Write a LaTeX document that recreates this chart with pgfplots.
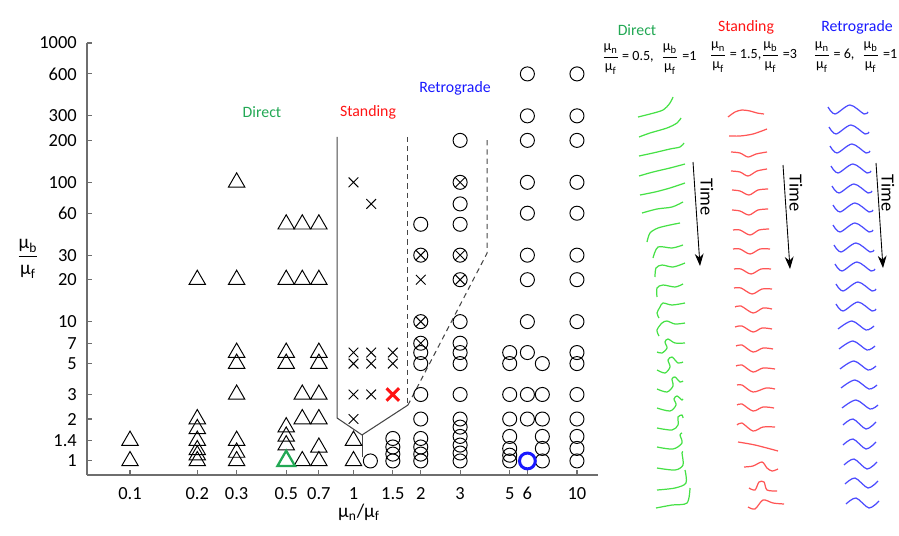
\documentclass[border=0pt]{standalone}
\usepackage{fontspec}
\setmainfont{Carlito}
\usepackage{amsmath}
\usepackage{pgfplots}
\pgfplotsset{compat=1.18}
\usetikzlibrary{arrows.meta}

\definecolor{axgray}{RGB}{110,110,110}
\definecolor{bgray}{RGB}{70,70,70}
\definecolor{dgreen}{RGB}{34,168,84}
\definecolor{lred}{RGB}{255,20,20}
\definecolor{lblue}{RGB}{25,25,255}
\definecolor{wgreen}{RGB}{70,225,70}
\definecolor{wred}{RGB}{255,85,85}
\definecolor{wblue}{RGB}{75,75,255}

\newcommand{\mufrac}[2]{$\dfrac{\text{μ}_{\text{#1}}}{\text{μ}_{\text{#2}}}$}

\begin{document}
\begin{tikzpicture}
\path[use as bounding box] (0,0) rectangle (17.98cm,10.7cm);

% overlay axis in pixel units: snapshots, labels, arrows
\begin{axis}[at={(0,0)}, anchor=south west, scale only axis,
  width=17.98cm, height=10.7cm, xmin=0, xmax=899, ymin=0, ymax=535,
  y dir=reverse, hide axis, clip=false,
  gw/.style={wgreen, line width=0.7pt, smooth},
  rw/.style={wred, line width=0.7pt, smooth},
  bw/.style={wblue, line width=0.7pt, smooth}]

% direct
\addplot[gw] coordinates {(638,117)(650,114)(663,110)(670,103)(673,97)};
\addplot[gw] coordinates {(639,137)(650,133)(667,128)(677,123)(681,118)};
\addplot[gw] coordinates {(639,156)(653,153)(670,149)(680,147)(684,143)};
\addplot[gw] coordinates {(639,176)(653,172)(670,168)(685,164)};
\addplot[gw] coordinates {(640,195)(655,192)(670,188)(685,183)};
\addplot[gw] coordinates {(642,213)(657,209)(672,207)(683,202)};
\addplot[gw] coordinates {(647,242)(650,233)(658,228)(670,225)(680,223)};
\addplot[gw] coordinates {(653,258)(658,247)(672,248)(683,245)};
\addplot[gw] coordinates {(655,277)(656,268)(662,265)(673,267)(685,263)};
\addplot[gw] coordinates {(657,297)(657,288)(663,285)(675,287)(683,284)};
\addplot[gw] coordinates {(659,318)(657,313)(660,307)(663,303)(672,305)(685,303)};
\addplot[gw] coordinates {(659,336)(657,330)(662,323)(667,321)(675,324)(685,323)};
\addplot[gw] coordinates {(657,352)(662,353)(667,348)(665,342)(668,339)(675,343)(685,343)};
\addplot[gw] coordinates {(657,370)(665,373)(670,367)(668,360)(672,357)(678,363)(683,362)};
\addplot[gw] coordinates {(657,389)(667,392)(673,386)(672,379)(675,377)(680,382)(683,381)};
\addplot[gw] coordinates {(657,408)(670,411)(676,405)(674,399)(677,396)(682,400)(683,399)};
\addplot[gw] coordinates {(657,428)(672,430)(678,425)(678,417)(682,415)(683,418)};
\addplot[gw] coordinates {(657,447)(673,449)(682,443)(680,435)(682,433)};
\addplot[gw] coordinates {(657,468)(675,470)(683,465)(682,453)(683,452)};
\addplot[gw] coordinates {(657,490)(675,488)(686,483)(685,470)};
\addplot[gw] coordinates {(656,508)(672,505)(687,503)(690,488)};

% standing
\addplot[rw] coordinates {(728,117)(735,112)(742,110)(750,111)(757,113)(764,114)};
\addplot[rw] coordinates {(729,136)(740,136)(753,134)(767,129)};
\addplot[rw] coordinates {(731,152)(740,153)(748,157)(756,154)(767,152)};
\addplot[rw] coordinates {(731,171)(740,172)(748,176)(757,171)(767,169)};
\addplot[rw] coordinates {(732,190)(740,191)(749,195)(758,190)(768,189)};
\addplot[rw] coordinates {(732,210)(740,211)(749,215)(758,210)(768,209)};
\addplot[rw] coordinates {(733,230)(740,230)(750,235)(759,230)(769,229)};
\addplot[rw] coordinates {(733,249)(740,249)(750,254)(760,249)(770,249)};
\addplot[rw] coordinates {(734,269)(741,269)(751,274)(761,269)(771,269)};
\addplot[rw] coordinates {(734,288)(741,288)(752,294)(762,289)(772,289)};
\addplot[rw] coordinates {(735,307)(741,306)(753,313)(763,308)(772,309)};
\addplot[rw] coordinates {(735,327)(742,326)(753,332)(762,328)(772,329)};
\addplot[rw] coordinates {(736,346)(742,345)(753,352)(763,348)(773,349)};
\addplot[rw] coordinates {(736,366)(742,365)(753,372)(763,368)(775,369)};
\addplot[rw] coordinates {(737,385)(742,385)(753,392)(766,388)(775,389)};
\addplot[rw] coordinates {(737,405)(742,404)(753,411)(763,407)(774,408)};
\addplot[rw] coordinates {(737,425)(742,423)(753,431)(763,427)(775,427)};
\addplot[rw] coordinates {(738,442)(755,445)(778,451)};
\addplot[rw] coordinates {(744,467)(753,466)(762,462)(767,468)(772,471)(778,469)};
\addplot[rw] coordinates {(749,488)(755,490)(759,482)(764,482)(767,490)(777,491)};
\addplot[rw] coordinates {(748,507)(755,509)(763,500)(773,503)(784,504)};

% retrograde
\addplot[bw] coordinates {(828,107)(835,114)(850,105)(864,114)(868,112)};
\addplot[bw] coordinates {(829,127)(836,134)(851,125)(865,134)(869,132)};
\addplot[bw] coordinates {(830,146)(837,153)(852,144)(866,153)(870,151)};
\addplot[bw] coordinates {(831,166)(838,173)(853,164)(867,173)(871,171)};
\addplot[bw] coordinates {(832,186)(839,193)(854,184)(868,193)(872,191)};
\addplot[bw] coordinates {(833,205)(840,212)(855,203)(869,212)(873,210)};
\addplot[bw] coordinates {(833,225)(840,232)(855,223)(869,232)(873,230)};
\addplot[bw] coordinates {(834,245)(841,252)(856,243)(870,252)(874,250)};
\addplot[bw] coordinates {(835,264)(842,271)(857,262)(871,271)(875,269)};
\addplot[bw] coordinates {(836,284)(843,291)(858,282)(872,291)(876,289)};
\addplot[bw] coordinates {(836,304)(843,311)(858,302)(872,311)(876,309)};
\addplot[bw] coordinates {(838,329)(852,321)(866,330)(874,326)};
\addplot[bw] coordinates {(839,349)(853,341)(867,350)(875,346)};
\addplot[bw] coordinates {(840,369)(854,361)(868,370)(876,366)};
\addplot[bw] coordinates {(841,388)(855,380)(869,389)(877,385)};
\addplot[bw] coordinates {(842,408)(856,400)(870,409)(878,405)};
\addplot[bw] coordinates {(843,425)(853,419)(866,429)(876,422)};
\addplot[bw] coordinates {(843,445)(853,439)(866,449)(876,442)};
\addplot[bw] coordinates {(844,465)(854,459)(867,469)(877,462)};
\addplot[bw] coordinates {(845,484)(855,478)(868,488)(878,481)};
\addplot[bw] coordinates {(846,504)(856,498)(869,508)(879,501)};

% time arrows
\addplot[black, line width=0.5pt, -{Stealth[length=7pt,width=5pt]}] coordinates {(693,162)(700,266)};
\addplot[black, line width=0.5pt, -{Stealth[length=7pt,width=5pt]}] coordinates {(783,165)(790,269)};
\addplot[black, line width=0.5pt, -{Stealth[length=7pt,width=5pt]}] coordinates {(876,163)(883,268)};
\node[rotate=-90, font=\fontsize{10.5}{12}\selectfont] at (axis cs:707,197) {Time};
\node[rotate=-90, font=\fontsize{10.5}{12}\selectfont] at (axis cs:796,193) {Time};
\node[rotate=-90, font=\fontsize{10.5}{12}\selectfont] at (axis cs:888,193) {Time};

% panel headers
\node[dgreen, font=\fontsize{9}{10}\selectfont] at (axis cs:637,30) {Direct};
\node[lred, font=\fontsize{9}{10}\selectfont] at (axis cs:746,27) {Standing};
\node[lblue, font=\fontsize{9}{10}\selectfont] at (axis cs:857,27) {Retrograde};
\node[font=\fontsize{8}{9}\selectfont] at (axis cs:649,59) {\mufrac{n}{f}\,= 0.5,\; \mufrac{b}{f} =1};
\node[font=\fontsize{8}{9}\selectfont] at (axis cs:753,57) {\mufrac{n}{f}\,= 1.5,\mufrac{b}{f} =3};
\node[font=\fontsize{8}{9}\selectfont] at (axis cs:855,57) {\mufrac{n}{f}\,= 6,\; \mufrac{b}{f} =1};

% region labels and axis labels
\node[dgreen, font=\fontsize{9}{10}\selectfont] at (axis cs:262,112) {Direct};
\node[lred, font=\fontsize{9}{10}\selectfont] at (axis cs:368,112) {Standing};
\node[lblue, font=\fontsize{9}{10}\selectfont] at (axis cs:455,88) {Retrograde};
\node[font=\fontsize{11}{12}\selectfont] at (axis cs:28,259) {\mufrac{b}{f}};
\node[font=\fontsize{11}{12}\selectfont] at (axis cs:359,512) {μ$_{\text{n}}$/μ$_{\text{f}}$};
\end{axis}

% phase diagram
\begin{axis}[at={(1.74cm,1.2cm)}, anchor=south west, scale only axis,
  width=10.22cm, height=8.64cm,
  xmode=log, ymode=log, xmin=0.0642, xmax=12.42, ymin=0.793, ymax=1000,
  axis x line=bottom, axis y line=left,
  axis line style={-, draw=axgray, line width=0.9pt},
  xtick={0.1,0.2,0.3,0.5,0.7,1,1.5,2,3,5,6,10},
  xticklabels={0.1,0.2,0.3,0.5,0.7,1,1.5,2,3,5,6,10},
  ytick={1,1.4,2,3,5,7,10,20,30,60,100,200,300,600,1000},
  yticklabels={1,1.4,2,3,5,7,10,20,30,60,100,200,300,600,1000},
  xminorticks=false, yminorticks=false,
  tick align=inside, major tick length=0.1cm,
  tick style={axgray, line width=0.6pt},
  tick label style={font=\fontsize{10.5}{12}\selectfont},
  xticklabel style={yshift=-0.12cm}, yticklabel style={xshift=-0.08cm},
  clip=false]

% boundaries
\addplot[bgray, line width=0.6pt] coordinates {(0.844,212)(0.844,2.035)(1.092,1.537)(1.753,2.52)};
\addplot[bgray, line width=0.6pt] coordinates {(1.092,1.537)(1.092,1.07)};
\addplot[bgray, line width=0.6pt, dash pattern=on 3pt off 2.3pt] coordinates {(1.753,212)(1.753,2.52)};
\addplot[bgray, line width=0.6pt, dash pattern=on 3pt off 2.3pt] coordinates {(3.96,201)(3.96,31)(1.753,2.52)};

% direct waves
\addplot[black, only marks, mark=triangle, mark size=5.4pt, line width=0.55pt] coordinates {
 (0.1,1)(0.1,1.4)
 (0.2,1)(0.2,1.1)(0.2,1.2)(0.2,1.4)(0.2,1.7)(0.2,2)(0.2,20)
 (0.3,1)(0.3,1.15)(0.3,1.4)(0.3,3)(0.3,5)(0.3,6)(0.3,20)(0.3,100)
 (0.5,1.3)(0.5,1.5)(0.5,1.75)(0.5,5)(0.5,6)(0.5,20)(0.5,50)
 (0.59,1)(0.59,2)(0.59,3)(0.59,20)(0.59,50)
 (0.7,1)(0.7,1.25)(0.7,2)(0.7,3)(0.7,5)(0.7,6)(0.7,20)(0.7,50)
 (1,1)(1,1.4)};

% standing waves
\addplot[black, only marks, mark=x, mark size=3.9pt, line width=0.55pt] coordinates {
 (1,2)(1,3)(1,5)(1,6)(1,100)(1.2,3)(1.2,5)(1.2,6)(1.2,70)(1.5,5)(1.5,6)(2,20)
 (2,7)(2,10)(2,30)(3,20)(3,30)(3,100)};

% retrograde waves
\addplot[black, only marks, mark=o, mark size=4pt, line width=0.55pt] coordinates {
 (1.19,1)
 (1.5,1)(1.5,1.12)(1.5,1.26)(1.5,1.45)
 (2,1)(2,1.12)(2,1.26)(2,1.45)(2,2)(2,3)(2,5)(2,6)(2,7)(2,10)(2,30)(2,50)
 (3,1)(3,1.14)(3,1.3)(3,1.5)(3,1.75)(3,2)(3,3)(3,5)(3,6)(3,7)(3,10)(3,20)(3,30)(3,50)(3,70)(3,100)(3,200)
 (5,1)(5,1.1)(5,1.23)(5,1.5)(5,2)(5,3)(5,5)(5,6)
 (6,2)(6,3)(6,6)(6,10)(6,20)(6,30)(6,60)(6,100)(6,200)(6,300)(6,600)
 (7,1)(7,1.23)(7,1.5)(7,2)(7,3)(7,5)
 (10,1)(10,1.23)(10,1.5)(10,2)(10,3)(10,5)(10,6)(10,10)(10,20)(10,30)(10,60)(10,100)(10,200)(10,300)(10,600)};

% highlighted cases
\addplot[dgreen, only marks, mark=triangle, mark size=5.8pt, line width=1.3pt] coordinates {(0.5,1)};
\addplot[lred, only marks, mark=x, mark size=5pt, line width=1.7pt] coordinates {(1.5,3)};
\addplot[lblue, only marks, mark=o, mark size=4.5pt, line width=1.7pt] coordinates {(6,1)};
\end{axis}
\end{tikzpicture}
\end{document}
